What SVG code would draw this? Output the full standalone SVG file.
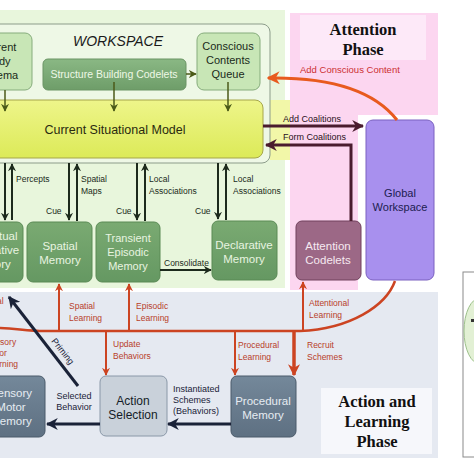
<svg xmlns="http://www.w3.org/2000/svg" width="474" height="474" viewBox="0 0 474 474">
<defs>
<linearGradient id="gSbc" x1="0" y1="0" x2="0" y2="1"><stop offset="0" stop-color="#8ab884"/><stop offset="1" stop-color="#6e9d69"/></linearGradient>
<linearGradient id="gMem" x1="0" y1="0" x2="0" y2="1"><stop offset="0" stop-color="#7aaa72"/><stop offset="1" stop-color="#659862"/></linearGradient>
<linearGradient id="gCsm" x1="0" y1="0" x2="0" y2="1"><stop offset="0" stop-color="#eef58a"/><stop offset="1" stop-color="#dcea58"/></linearGradient>
<linearGradient id="gSlate" x1="0" y1="0" x2="0" y2="1"><stop offset="0" stop-color="#74889a"/><stop offset="1" stop-color="#5e7082"/></linearGradient>
<marker id="mOl" viewBox="0 0 10 10" refX="9" refY="5" markerWidth="8" markerHeight="8" markerUnits="userSpaceOnUse" orient="auto"><path d="M0 0 L10 5 L0 10 L3 5 Z" fill="#4b5a18"/></marker>
<marker id="mDk" viewBox="0 0 10 10" refX="9" refY="5" markerWidth="8" markerHeight="8" markerUnits="userSpaceOnUse" orient="auto"><path d="M0 0 L10 5 L0 10 L3 5 Z" fill="#1c2a1c"/></marker>
<marker id="mRd" viewBox="0 0 10 10" refX="9" refY="5" markerWidth="8" markerHeight="8" markerUnits="userSpaceOnUse" orient="auto"><path d="M0 0 L10 5 L0 10 L3 5 Z" fill="#cc4422"/></marker>
<marker id="mRdB" viewBox="0 0 10 10" refX="9" refY="5" markerWidth="12" markerHeight="12" markerUnits="userSpaceOnUse" orient="auto"><path d="M0 0 L10 5 L0 10 L3 5 Z" fill="#cc4422"/></marker>
<marker id="mOr" viewBox="0 0 10 10" refX="9" refY="5" markerWidth="13" markerHeight="13" markerUnits="userSpaceOnUse" orient="auto"><path d="M0 0 L10 5 L0 10 L3 5 Z" fill="#e85a1e"/></marker>
<marker id="mMa" viewBox="0 0 10 10" refX="9" refY="5" markerWidth="12" markerHeight="12" markerUnits="userSpaceOnUse" orient="auto"><path d="M0 0 L10 5 L0 10 L3 5 Z" fill="#4a1c2e"/></marker>
<marker id="mNv" viewBox="0 0 10 10" refX="9" refY="5" markerWidth="12" markerHeight="12" markerUnits="userSpaceOnUse" orient="auto"><path d="M0 0 L10 5 L0 10 L3 5 Z" fill="#1a2238"/></marker>
</defs>
<style>
text{font-family:"Liberation Sans",Arial,sans-serif}
.lt{fill:#e8f4e0;font-size:11.5px;text-anchor:middle}
.dk{fill:#1a2a1a;font-size:11px;text-anchor:middle}
.lb{fill:#1a2a1a;font-size:8.5px}
.rl{fill:#b8402a;font-size:8.5px}
.nl{fill:#1a2238;font-size:9px}
.ttl{font-family:"Liberation Serif","Times New Roman",serif;font-weight:bold;font-size:16.5px;fill:#111;text-anchor:middle}
.mem{fill:url(#gMem);stroke:#5a8a55;stroke-width:1}
.lgr{fill:#c8e6b6;stroke:#86ac7c;stroke-width:1}
.ol{stroke:#4b5a18;stroke-width:1.5;fill:none;marker-end:url(#mOl)}
.dka{stroke:#1c2a1c;stroke-width:2;fill:none;marker-end:url(#mDk)}
.rd{stroke:#cc4422;stroke-width:2;fill:none;marker-end:url(#mRd)}
.nv{stroke:#1a2238;stroke-width:3;fill:none;marker-end:url(#mNv)}
.ma{stroke:#4a1c2e;stroke-width:3;fill:none;marker-end:url(#mMa)}
</style>
<rect width="474" height="474" fill="#ffffff"/>
<!-- panels -->
<rect x="-5" y="10" width="290" height="278" fill="#e8f6dc"/>
<rect x="290" y="13" width="148" height="277" fill="#fcd6f0"/>
<rect x="358" y="115" width="82" height="177" fill="#ffffff"/>
<rect x="300" y="15" width="126" height="45" fill="#fde9f8"/>
<text class="ttl" x="363" y="35">Attention</text>
<text class="ttl" x="363" y="55">Phase</text>
<rect x="-5" y="292" width="443" height="166" fill="#e5e9f1"/>
<rect x="321" y="388" width="111" height="66" fill="#f6f7fb"/>
<text class="ttl" x="377" y="407">Action and</text>
<text class="ttl" x="377" y="427">Learning</text>
<text class="ttl" x="377" y="447">Phase</text>
<rect x="270" y="100" width="20" height="60" fill="#f2f7a8"/>
<!-- workspace -->
<g id="workspace">
<rect x="-10" y="24" width="280" height="139" rx="8" fill="#eef8e6" stroke="#8c9c8a" stroke-width="1"/>
<text x="118" y="46" font-size="14px" font-style="italic" fill="#1a1a1a" text-anchor="middle">WORKSPACE</text>
</g>
<g id="current-body-schema">
<rect x="-25" y="33" width="57" height="57" rx="7" class="lgr"/>
<text class="dk" x="-2" y="51">Current</text>
<text class="dk" x="-2" y="65">Body</text>
<text class="dk" x="-2" y="79">Schema</text>
</g>
<g id="structure-building-codelets">
<rect x="43" y="59" width="143" height="31" rx="5" fill="url(#gSbc)" stroke="#6a9464"/>
<text x="114" y="78" font-size="10.5px" fill="#eef8e6" text-anchor="middle">Structure Building Codelets</text>
</g>
<g id="conscious-contents-queue">
<rect x="197" y="33" width="63" height="57" rx="7" class="lgr"/>
<text class="dk" x="228" y="50">Conscious</text>
<text class="dk" x="228" y="64">Contents</text>
<text class="dk" x="228" y="78">Queue</text>
</g>
<g id="current-situational-model">
<rect x="-10" y="100" width="273" height="58" rx="8" fill="url(#gCsm)" stroke="#a6a64a" stroke-width="1"/>
<text x="115" y="134" font-size="12.5px" fill="#2a2a10" text-anchor="middle">Current Situational Model</text>
</g>
<!-- memories -->
<g id="perceptual-associative-memory">
<rect x="-40" y="222" width="63" height="60" rx="6" class="mem"/>
<text class="lt" x="-10" y="240">Perceptual</text>
<text class="lt" x="-10" y="254">Associative</text>
<text class="lt" x="-10" y="268">Memory</text>
</g>
<g id="spatial-memory">
<rect x="27" y="222" width="65" height="60" rx="6" class="mem"/>
<text class="lt" x="60" y="250">Spatial</text>
<text class="lt" x="60" y="264">Memory</text>
</g>
<g id="transient-episodic-memory">
<rect x="96" y="222" width="64" height="60" rx="6" class="mem"/>
<text class="lt" x="128" y="242" style="font-size:11px">Transient</text>
<text class="lt" x="128" y="256" style="font-size:11px">Episodic</text>
<text class="lt" x="128" y="270" style="font-size:11px">Memory</text>
</g>
<g id="declarative-memory">
<rect x="212" y="221" width="65" height="59" rx="6" class="mem"/>
<text class="lt" x="244" y="249">Declarative</text>
<text class="lt" x="244" y="263">Memory</text>
</g>
<g id="attention-codelets">
<rect x="296" y="221" width="65" height="59" rx="6" fill="#9c6886" stroke="#70405c"/>
<text class="lt" x="328" y="250" style="fill:#f6e8f0">Attention</text>
<text class="lt" x="328" y="264" style="fill:#f6e8f0">Codelets</text>
</g>
<g id="global-workspace">
<rect x="366" y="120" width="68" height="160" rx="7" fill="#a890ee" stroke="#7a60c0"/>
<text class="dk" x="400" y="197" style="fill:#1c1c50">Global</text>
<text class="dk" x="400" y="211" style="fill:#1c1c50">Workspace</text>
</g>
<g id="sensory-motor-memory">
<rect x="-20" y="376" width="65" height="61" rx="6" fill="url(#gSlate)" stroke="#4a5a6a"/>
<text class="lt" x="11" y="397" style="fill:#e6ecf2">Sensory</text>
<text class="lt" x="11" y="411" style="fill:#e6ecf2">Motor</text>
<text class="lt" x="11" y="425" style="fill:#e6ecf2">Memory</text>
</g>
<g id="action-selection">
<rect x="100" y="376" width="67" height="60" rx="6" fill="#c9d1da" stroke="#8a98a8"/>
<text class="dk" x="133" y="405" style="font-size:12px;fill:#141c28">Action</text>
<text class="dk" x="133" y="419" style="font-size:12px;fill:#141c28">Selection</text>
</g>
<g id="procedural-memory">
<rect x="231" y="376" width="65" height="61" rx="6" fill="url(#gSlate)" stroke="#4a5a6a"/>
<text class="lt" x="263" y="405" style="fill:#e6ecf2">Procedural</text>
<text class="lt" x="263" y="419" style="fill:#e6ecf2">Memory</text>
</g>
<g id="partial-right">
<rect x="463" y="272" width="20" height="185" fill="#ffffff" stroke="#8a8a8a"/>
<ellipse cx="480" cy="331" rx="16" ry="33" fill="#e2f0d4" stroke="#9cc08a"/>
<rect x="471" y="319" width="4" height="3" fill="#333"/>
</g>
<!-- connectors -->
<g id="connectors">
<path class="ol" d="M5 90 V111"/>
<path class="ol" d="M114 82 V111"/>
<path class="ol" d="M228 82 V111"/>
<path class="ol" d="M186 74 H196"/>
<path d="M397 120 C372 88 325 77 268 78" stroke="#e85a1e" stroke-width="3" fill="none" marker-end="url(#mOr)"/>
<path class="ma" d="M263 126 H363"/>
<path class="ma" d="M351 221 V145 H266"/>
<path class="dka" d="M5 163 V220"/><path class="dka" d="M12 220 V164"/>
<path class="dka" d="M69 163 V220"/><path class="dka" d="M77 221 V164"/>
<path class="dka" d="M137 163 V220"/><path class="dka" d="M145 221 V164"/>
<path class="dka" d="M218 163 V219"/><path class="dka" d="M226 220 V164"/>
<path class="dka" d="M160 270 H211"/>
<path d="M-5 328 C15 328 25 331 45 331 H300 C350 329 386 306 395 281" stroke="#cc4422" stroke-width="2.5" fill="none"/>
<path class="rd" d="M59 331 V284"/>
<path class="rd" d="M129 331 V284"/>
<path class="rd" d="M303 331 V282"/>
<path class="rd" d="M106 331 V375"/>
<path class="rd" d="M235 331 V375"/>
<path d="M294 331 V375" stroke="#cc4422" stroke-width="3.5" fill="none" marker-end="url(#mRdB)"/>
<path class="nv" d="M231 424 H168"/>
<path class="nv" d="M100 424 H47"/>
<path class="nv" d="M78 386 L9 297"/>
</g>
<!-- labels -->
<g id="labels">
<text x="300" y="73" font-size="9.5px" fill="#cc3030">Add Conscious Content</text>
<text x="283" y="122" font-size="9px" fill="#2a1020">Add Coalitions</text>
<text x="283" y="140" font-size="9px" fill="#2a1020">Form Coalitions</text>
<text class="lb" x="16" y="182">Percepts</text>
<text class="lb" x="81" y="182">Spatial</text><text class="lb" x="81" y="194">Maps</text>
<text class="lb" x="149" y="182">Local</text><text class="lb" x="149" y="194">Associations</text>
<text class="lb" x="233" y="182">Local</text><text class="lb" x="233" y="194">Associations</text>
<text class="lb" x="46" y="214">Cue</text>
<text class="lb" x="116" y="214">Cue</text>
<text class="lb" x="195" y="214">Cue</text>
<text class="lb" x="164" y="266">Consolidate</text>
<text class="rl" x="-37" y="304">Perceptual</text><text class="rl" x="-37" y="316">Learning</text>
<text class="rl" x="69" y="309">Spatial</text><text class="rl" x="69" y="321">Learning</text>
<text class="rl" x="136" y="309">Episodic</text><text class="rl" x="136" y="321">Learning</text>
<text class="rl" x="309" y="306">Attentional</text><text class="rl" x="309" y="318">Learning</text>
<text class="rl" x="-15" y="345">Sensory</text><text class="rl" x="-15" y="356">Motor</text><text class="rl" x="-15" y="367">Learning</text>
<text class="rl" x="113" y="347">Update</text><text class="rl" x="113" y="359">Behaviors</text>
<text class="rl" x="238" y="348">Procedural</text><text class="rl" x="238" y="360">Learning</text>
<text class="rl" x="307" y="348">Recruit</text><text class="rl" x="307" y="360">Schemes</text>
<text class="nl" x="173" y="392">Instantiated</text><text class="nl" x="173" y="403">Schemes</text><text class="nl" x="173" y="414">(Behaviors)</text>
<text class="nl" x="74" y="399" text-anchor="middle">Selected</text><text class="nl" x="74" y="410" text-anchor="middle">Behavior</text>
<text class="nl" x="62" y="354" text-anchor="middle" transform="rotate(52 62 352)">Priming</text>
</g>
</svg>
